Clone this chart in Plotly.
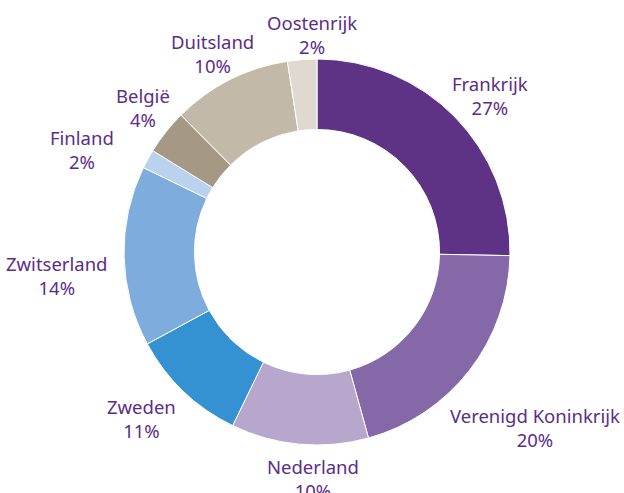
import plotly.graph_objects as go

countries = ["Frankrijk", "Verenigd Koninkrijk", "Nederland", "Zweden", "Zwitserland",
             "Finland", "België", "Duitsland", "Oostenrijk"]
slice_values = [25.3, 20.4, 11.5, 9.9, 15.1, 1.6, 3.75, 10.0, 2.45]
# percentages as printed in the labels
label_pct = ["27%", "20%", "10%", "11%", "14%", "2%", "4%", "10%", "2%"]
colors = ["#5e3386", "#8468a7", "#b8a7cd", "#3492d2", "#7eaddd",
          "#bad2ed", "#a59884", "#c3b9a8", "#e0d9d0"]

W, H = 624, 493
TEXT = "#5b2d8a"
FONT = "Noto Sans"

# label centre positions in pixels
label_pos = [(490, 95), (535, 427), (313, 478), (141, 418), (56, 275),
             (82, 149), (143, 108), (212, 53), (312, 34)]

cx, cy, R = 317, 252, 193

fig = go.Figure(go.Pie(
    labels=countries,
    values=slice_values,
    sort=False,
    direction="clockwise",
    rotation=0,
    hole=0.635,
    marker=dict(colors=colors, line=dict(color="white", width=1)),
    textinfo="none",
    hoverinfo="label",
    showlegend=False,
    domain=dict(x=[(cx - R) / W, (cx + R) / W], y=[(H - cy - R) / H, (H - cy + R) / H]),
))

annotations = []
for name, pct, (lx, ly) in zip(countries, label_pct, label_pos):
    annotations.append(dict(x=lx / W, y=1 - ly / H, xref="paper", yref="paper",
                            text=f"{name}<br>{pct}", showarrow=False, align="center",
                            xanchor="center", yanchor="middle",
                            font=dict(family=FONT, size=18.5, color=TEXT)))

fig.update_layout(
    width=W, height=H,
    margin=dict(l=0, r=0, t=0, b=0),
    paper_bgcolor="white", plot_bgcolor="white",
    annotations=annotations,
)

fig.write_html("out.html")
